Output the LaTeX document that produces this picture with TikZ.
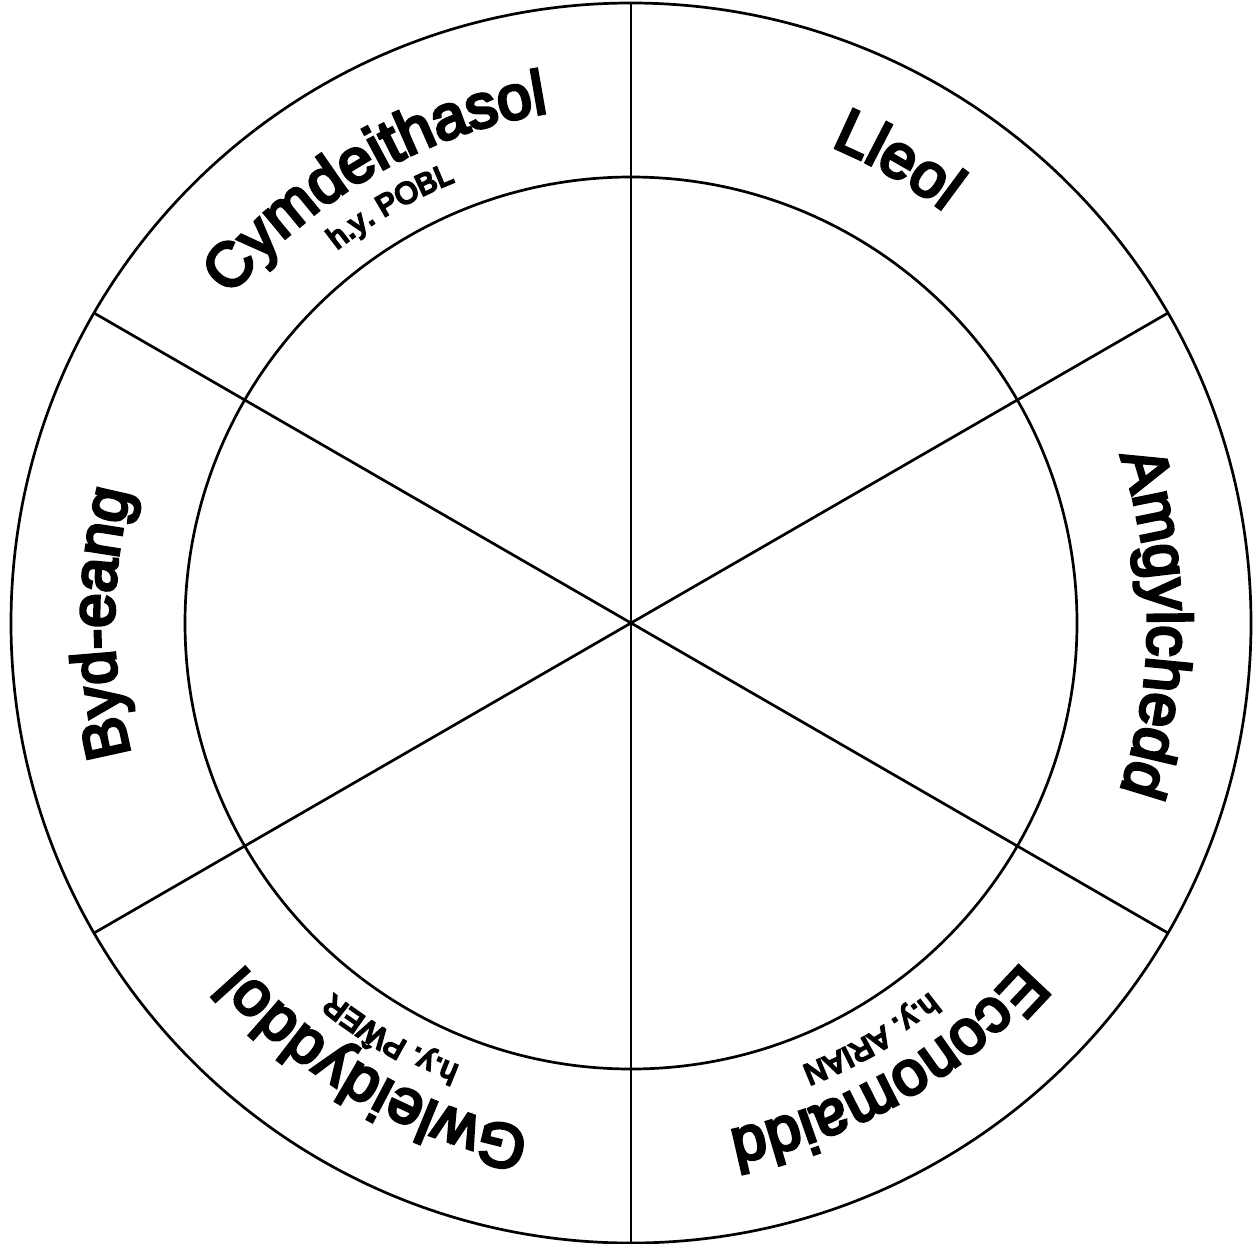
\documentclass[tikz,border=0pt]{standalone}
\usepackage{fontspec}
\setmainfont{Liberation Sans}
\newfontfamily\lblfont{Liberation Sans}[FakeBold=5]
\newfontfamily\sublblfont{Liberation Sans}[FakeBold=7]
\usetikzlibrary{decorations.text}
\newcommand\bigtxt{\lblfont\fontsize{62}{62}\selectfont}
\newcommand\smalltxt{\sublblfont\fontsize{30}{30}\selectfont}
\newcommand\arclab[4]{%
  \path[decorate,decoration={text along path,text align=center,text={|#3|#4}}]
    ({#1+30}:#2) arc[start angle={#1+30}, end angle={#1-30}, radius=#2 pt];}
\tikzset{wheel/.style={draw=black, line width=2.7pt}}
\begin{document}
\begin{tikzpicture}[x=1pt,y=1pt]
\useasboundingbox (0,0) rectangle (1258,-1244);
\fill[white] (0,0) rectangle (1258,-1244);
\begin{scope}[shift={(631,-623)}]
  \coordinate (O) at (0,0);
  \draw[wheel] (O) circle[radius=620pt];
  \draw[wheel] (O) circle[radius=446pt];
  \foreach \a in {90,30,-30,-90,-150,150}
    \draw[wheel] (O) -- (\a:620);
  \arclab{120}{517}{\bigtxt}{Cymdeithasol}
  \arclab{120}{475}{\smalltxt}{h.y. POBL}
  \arclab{60}{517}{\bigtxt}{Lleol}
  \arclab{0}{517}{\bigtxt}{Amgylchedd}
  \arclab{-60}{517}{\bigtxt}{Economaidd}
  \arclab{-60}{475}{\smalltxt}{h.y. ARIAN}
  \arclab{-120}{517}{\bigtxt}{Gwleidyddol}
  \arclab{-120}{475}{\smalltxt}{h.y. PŴER}
  \arclab{180}{517}{\bigtxt}{Byd-eang}
\end{scope}
\end{tikzpicture}
\end{document}
